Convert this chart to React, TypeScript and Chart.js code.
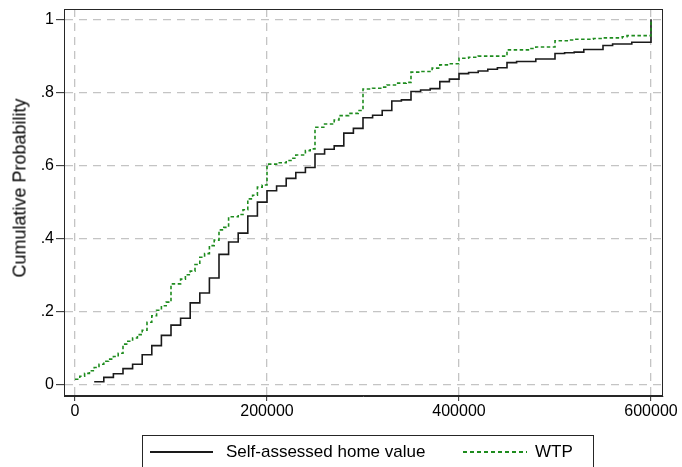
import React, { useEffect, useRef } from "react";
import { Chart, registerables } from "chart.js";

Chart.register(...registerables);

// ---- data ----
const homeX = [
  20000, 30000, 40000, 50000, 60000, 70000, 80000, 90000, 100000, 110000,
  120000, 130000, 140000, 150000, 160000, 170000, 180000, 190000, 200000, 210000,
  220000, 230000, 240000, 250000, 260000, 270000, 280000, 290000, 300000, 310000,
  320000, 330000, 340000, 350000, 360000, 370000, 380000, 390000, 400000, 410000,
  420000, 430000, 440000, 450000, 460000, 480000, 500000, 510000, 520000, 530000,
  550000, 560000, 580000, 600000,
];
const homeY = [
  0.007, 0.019, 0.029, 0.043, 0.055, 0.081, 0.106, 0.134, 0.162, 0.181,
  0.223, 0.25, 0.291, 0.356, 0.39, 0.414, 0.461, 0.499, 0.53, 0.543,
  0.564, 0.58, 0.594, 0.631, 0.644, 0.653, 0.688, 0.701, 0.73, 0.737,
  0.75, 0.776, 0.779, 0.802, 0.806, 0.81, 0.829, 0.836, 0.851, 0.854,
  0.858, 0.863, 0.867, 0.881, 0.884, 0.891, 0.906, 0.908, 0.91, 0.917,
  0.928, 0.932, 0.937, 1.0,
];

const wtpX = [
  0, 5000, 10000, 15000, 20000, 25000, 30000, 35000, 40000, 45000,
  50000, 55000, 60000, 65000, 70000, 75000, 80000, 85000, 90000, 95000,
  100000, 110000, 115000, 120000, 125000, 130000, 135000, 140000, 145000, 150000,
  155000, 160000, 170000, 175000, 180000, 185000, 190000, 195000, 200000, 210000,
  220000, 225000, 230000, 240000, 245000, 250000, 260000, 270000, 275000, 285000,
  295000, 300000, 310000, 320000, 325000, 335000, 345000, 350000, 360000, 372000,
  380000, 390000, 400000, 410000, 420000, 450000, 475000, 480000, 500000, 515000,
  520000, 540000, 550000, 570000, 575000, 600000,
];
const wtpY = [
  0.014, 0.022, 0.03, 0.037, 0.046, 0.055, 0.063, 0.069, 0.076, 0.085,
  0.11, 0.118, 0.127, 0.136, 0.148, 0.17, 0.188, 0.203, 0.215, 0.225,
  0.275, 0.288, 0.3, 0.31, 0.328, 0.348, 0.358, 0.38, 0.395, 0.423,
  0.43, 0.459, 0.465, 0.478, 0.508, 0.518, 0.54, 0.546, 0.603, 0.607,
  0.613, 0.619, 0.628, 0.64, 0.645, 0.704, 0.713, 0.724, 0.736, 0.742,
  0.75, 0.809, 0.811, 0.814, 0.82, 0.825, 0.827, 0.855, 0.857, 0.866,
  0.875, 0.878, 0.893, 0.896, 0.899, 0.916, 0.92, 0.924, 0.941, 0.943,
  0.945, 0.947, 0.949, 0.952, 0.955, 1.0,
];

const xTicks = [0, 200000, 400000, 600000];
const yTicks = [0, 0.2, 0.4, 0.6, 0.8, 1];
const yTickLabels = ["0", ".2", ".4", ".6", ".8", "1"];
const seriesNames = ["Self-assessed home value", "WTP"];
const yTitle = "Cumulative Probability";

const FONT = "'Liberation Sans', Arial, Helvetica, sans-serif";
const BLACK = "#1a1a1a";
const GREEN = "#1e8c1e";
const AXIS = "#262626";
const GRID = "#c4c4c4";

const framePlugin = {
  id: "frame",
  afterDraw(chart: any) {
    const { ctx, chartArea: a } = chart;
    ctx.save();
    ctx.strokeStyle = AXIS;
    ctx.lineWidth = 1;
    const l = Math.round(a.left) + 0.5;
    const t = Math.round(a.top) + 0.5;
    const r = Math.round(a.right) - 0.5;
    const b = Math.round(a.bottom) - 0.5;
    ctx.strokeRect(l, t, r - l, b - t);
    ctx.restore();
  },
};

export default function App() {
  const ref = useRef<HTMLCanvasElement>(null);

  useEffect(() => {
    const chart = new Chart(ref.current as HTMLCanvasElement, {
      type: "line",
      data: {
        datasets: [
          {
            label: seriesNames[1],
            data: wtpX.map((x, i) => ({ x, y: wtpY[i] })),
            borderColor: GREEN,
            borderWidth: 1.6,
            borderDash: [3.5, 2.5],
            stepped: "before",
            pointRadius: 0,
            fill: false,
            order: 0,
          },
          {
            label: seriesNames[0],
            data: homeX.map((x, i) => ({ x, y: homeY[i] })),
            borderColor: BLACK,
            borderWidth: 1.6,
            stepped: "before",
            pointRadius: 0,
            fill: false,
            order: 1,
          },
        ],
      },
      options: {
        animation: false,
        responsive: false,
        devicePixelRatio: 1,
        layout: { padding: { top: 9, right: 19, left: 0, bottom: 0 } },
        plugins: { legend: { display: false }, tooltip: { enabled: false } },
        scales: {
          x: {
            type: "linear",
            min: -11458,
            max: 612500,
            afterBuildTicks: (scale: any) => {
              scale.ticks = xTicks.map((v) => ({ value: v }));
            },
            afterFit: (scale: any) => {
              scale.height = 71;
              scale.paddingLeft = 0;
              scale.paddingRight = 0;
            },
            grid: {
              color: GRID,
              lineWidth: 1.3,
              tickColor: AXIS,
              tickLength: 5,
              tickWidth: 1,
            },
            border: { display: true, color: AXIS, width: 1, dash: [8, 6] },
            ticks: {
              padding: 1,
              autoSkip: false,
              maxRotation: 0,
              color: "#000",
              font: { family: FONT, size: 16 },
              callback: (v: any) => String(v),
            },
          },
          y: {
            type: "linear",
            min: -0.032,
            max: 1.028,
            afterBuildTicks: (scale: any) => {
              scale.ticks = yTicks.map((v) => ({ value: v }));
            },
            afterFit: (scale: any) => {
              scale.width = 64;
              scale.paddingTop = 0;
              scale.paddingBottom = 0;
            },
            grid: {
              color: GRID,
              lineWidth: 1.3,
              tickColor: AXIS,
              tickLength: 8,
              tickWidth: 1,
            },
            border: { display: true, color: AXIS, width: 1, dash: [8, 6] },
            ticks: {
              padding: 2,
              color: "#000",
              font: { family: FONT, size: 16 },
              callback: (v: any) => {
                const i = yTicks.findIndex((t) => Math.abs(t - v) < 1e-9);
                return i >= 0 ? yTickLabels[i] : "";
              },
            },
          },
        },
      },
      plugins: [framePlugin],
    } as any);
    return () => chart.destroy();
  }, []);

  return (
    <div
      style={{
        position: "fixed",
        left: 0,
        top: 0,
        width: 682,
        height: 467,
        background: "#fff",
        overflow: "hidden",
        fontFamily: FONT,
        color: "#000",
      }}
    >
      <canvas
        ref={ref}
        width={682}
        height={467}
        style={{ position: "absolute", left: 0, top: 0, width: 682, height: 467 }}
      />
      <div
        style={{
          position: "absolute",
          left: 20,
          top: 188,
          transform: "translate(-50%, -50%) rotate(-90deg)",
          fontSize: 18,
          whiteSpace: "nowrap",
        }}
      >
        {yTitle}
      </div>
      <div
        style={{
          position: "absolute",
          left: 142,
          top: 435,
          width: 452,
          height: 50,
          border: `1px solid ${AXIS}`,
          boxSizing: "border-box",
        }}
      >
        <div
          style={{
            position: "absolute",
            left: 7,
            top: 15.2,
            width: 63,
            height: 1.6,
            background: BLACK,
          }}
        />
        <div
          style={{
            position: "absolute",
            left: 83,
            top: 5.6,
            fontSize: 17,
            lineHeight: "20px",
            whiteSpace: "nowrap",
          }}
        >
          {seriesNames[0]}
        </div>
        <div
          style={{
            position: "absolute",
            left: 320,
            top: 15.2,
            width: 64,
            height: 1.6,
            background: `repeating-linear-gradient(to right, ${GREEN} 0px, ${GREEN} 4px, transparent 4px, transparent 7px)`,
          }}
        />
        <div
          style={{
            position: "absolute",
            left: 392,
            top: 5.6,
            fontSize: 17,
            lineHeight: "20px",
            whiteSpace: "nowrap",
          }}
        >
          {seriesNames[1]}
        </div>
      </div>
    </div>
  );
}
